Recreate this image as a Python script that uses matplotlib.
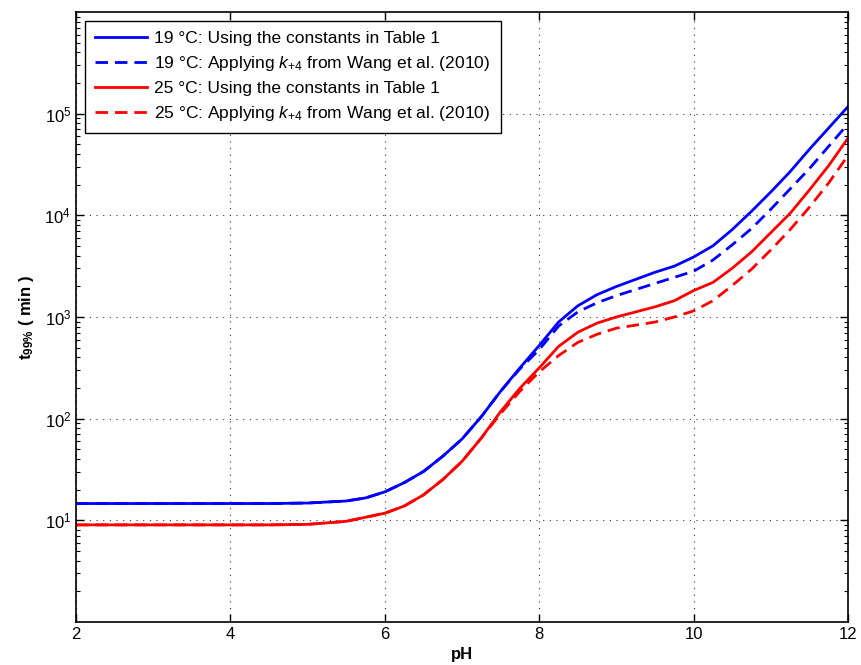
import numpy as np
import matplotlib
matplotlib.use('Agg')
import matplotlib.pyplot as plt
from matplotlib.ticker import LogLocator, NullFormatter

plt.rcParams['font.family'] = ['Liberation Sans', 'DejaVu Sans']
plt.rcParams['mathtext.fontset'] = 'custom'
plt.rcParams['mathtext.rm'] = 'Liberation Sans'
plt.rcParams['mathtext.it'] = 'Liberation Sans:italic'
plt.rcParams['mathtext.bf'] = 'Liberation Sans:bold'

# pH grid
ph = [2, 3, 4, 4.5, 5, 5.5, 5.75, 6, 6.25, 6.5, 6.75, 7, 7.25, 7.5, 7.75, 8, 8.25, 8.5,
      8.75, 9, 9.25, 9.5, 9.75, 10, 10.25, 10.5, 10.75, 11, 11.25, 11.5, 11.75, 12]

# log10(t99% / min)
blue_table = [1.165, 1.165, 1.165, 1.165, 1.17, 1.19, 1.22, 1.28, 1.37, 1.48, 1.63, 1.80, 2.02, 2.27, 2.50, 2.72,
              2.95, 3.11, 3.22, 3.30, 3.37, 3.44, 3.50, 3.59, 3.70, 3.86, 4.04, 4.23, 4.43, 4.65, 4.86, 5.07]
blue_wang = [1.165, 1.165, 1.165, 1.165, 1.17, 1.19, 1.22, 1.28, 1.37, 1.48, 1.63, 1.80, 2.02, 2.27, 2.49, 2.68,
             2.91, 3.05, 3.14, 3.21, 3.27, 3.33, 3.39, 3.45, 3.56, 3.71, 3.87, 4.06, 4.26, 4.46, 4.68, 4.90]
red_table = [0.955, 0.955, 0.955, 0.955, 0.96, 0.99, 1.03, 1.07, 1.14, 1.25, 1.40, 1.58, 1.81, 2.07, 2.30, 2.50,
             2.71, 2.85, 2.94, 3.00, 3.05, 3.10, 3.16, 3.26, 3.34, 3.48, 3.64, 3.83, 4.02, 4.25, 4.49, 4.76]
red_wang = [0.955, 0.955, 0.955, 0.955, 0.96, 0.99, 1.03, 1.07, 1.14, 1.25, 1.40, 1.58, 1.81, 2.05, 2.27, 2.46,
            2.62, 2.75, 2.83, 2.89, 2.92, 2.95, 3.00, 3.06, 3.16, 3.31, 3.47, 3.66, 3.86, 4.08, 4.32, 4.59]

labels = [u'19 \u00b0C: Using the constants in Table 1',
          u'19 \u00b0C: Applying $\\mathit{k}_{+4}$ from Wang et al. (2010)',
          u'25 \u00b0C: Using the constants in Table 1',
          u'25 \u00b0C: Applying $\\mathit{k}_{+4}$ from Wang et al. (2010)']

fig = plt.figure(figsize=(8.61, 6.65), dpi=100)
ax = fig.add_axes([0.0883, 0.0647, 0.8967, 0.9173])

dash = (4.5, 2.5)
ax.plot(ph, 10 ** np.array(blue_table), color='#0000ff', lw=2, label=labels[0])
ax.plot(ph, 10 ** np.array(blue_wang), color='#0000ff', lw=2, dashes=dash, label=labels[1])
ax.plot(ph, 10 ** np.array(red_table), color='#ff0000', lw=2, label=labels[2])
ax.plot(ph, 10 ** np.array(red_wang), color='#ff0000', lw=2, dashes=dash, label=labels[3])

ax.set_yscale('log')
ax.set_xlim(2, 12)
ax.set_ylim(1, 1e6)
ax.set_xticks([2, 4, 6, 8, 10, 12])
ax.set_yticks([1e1, 1e2, 1e3, 1e4, 1e5])
ax.yaxis.set_minor_locator(LogLocator(base=10, subs=np.arange(2, 10)))
ax.yaxis.set_minor_formatter(NullFormatter())

ax.grid(True, which='major', linestyle=(0, (1, 5)), color='#333333', linewidth=0.8)
ax.tick_params(which='both', direction='in', top=True, right=True, labelsize=12)
ax.tick_params(which='major', length=6, width=1)
ax.tick_params(which='minor', length=3, width=0.8)
for s in ax.spines.values():
    s.set_linewidth(1.2)

ax.set_xlabel('pH', fontweight='bold', fontsize=12, labelpad=4)
ax.set_ylabel(r'$\mathbf{t}_{\mathbf{99\%}}$ ( min )', fontweight='bold', fontsize=12, labelpad=6)

leg = ax.legend(loc='upper left', fontsize=12.5, handlelength=3.0, handletextpad=0.4,
                borderpad=0.6, borderaxespad=0.5, fancybox=False, framealpha=1,
                edgecolor='black', labelspacing=0.45)
leg.get_frame().set_linewidth(1.0)

fig.savefig('out.png', dpi=100)
